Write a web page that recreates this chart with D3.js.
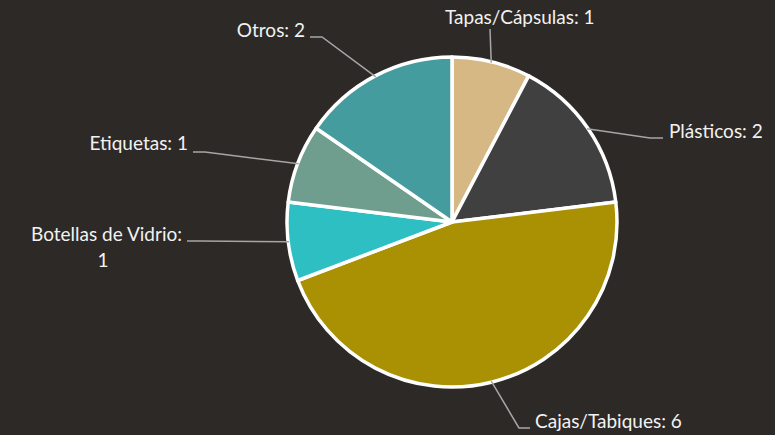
<!DOCTYPE html>
<html>
<head>
<meta charset="utf-8">
<script src="https://cdn.jsdelivr.net/npm/d3@7"></script>
<style>
  html, body { margin: 0; padding: 0; background: #2d2926; }
  svg { display: block; }
</style>
</head>
<body>
<svg id="chart"></svg>
<script>
// data
const categories = ["Tapas/Cápsulas", "Plásticos", "Cajas/Tabiques", "Botellas de Vidrio", "Etiquetas", "Otros"];
const values = [1, 2, 6, 1, 1, 2];
const colors = ["#d5b883", "#404040", "#a99103", "#2ebfc2", "#6f9d8e", "#449c9f"];

const width = 775;
const height = 435;
const cx = 452, cy = 222, radius = 165;

// label placement (relative to pie centre): elbow, stub end, text pos, anchor
const labelLayout = [
  { elbow: [38, -193], end: [38, -193], text: [-7, -198], anchor: "start" },
  { elbow: [198, -84], end: [211, -84], text: [217, -84], anchor: "start" },
  { elbow: [67, 206], end: [78, 206], text: [83, 206], anchor: "start" },
  { elbow: [-252, 19], end: [-265, 19], text: [-270, 19], anchor: "end", wrap: true },
  { elbow: [-247, -70], end: [-259, -70], text: [-264, -72], anchor: "end" },
  { elbow: [-130, -185], end: [-142, -185], text: [-147, -185], anchor: "end" }
];

const svg = d3.select("#chart")
  .attr("width", width)
  .attr("height", height)
  .attr("viewBox", [0, 0, width, height]);

svg.append("rect")
  .attr("width", width)
  .attr("height", height)
  .attr("fill", "#2d2926");

const pie = d3.pie().value(d => d.value).sort(null);
const arc = d3.arc().innerRadius(0).outerRadius(radius);

const data = categories.map((c, i) => ({ name: c, value: values[i], color: colors[i], layout: labelLayout[i] }));
const arcs = pie(data);

const g = svg.append("g").attr("transform", `translate(${cx},${cy})`);

g.selectAll("path")
  .data(arcs)
  .join("path")
  .attr("d", arc)
  .attr("fill", d => d.data.color)
  .attr("stroke", "#fff")
  .attr("stroke-width", 3.5)
  .attr("stroke-linejoin", "round");

// leader lines
g.selectAll("polyline")
  .data(arcs)
  .join("polyline")
  .attr("fill", "none")
  .attr("stroke", "#a6a6a6")
  .attr("stroke-width", 1.5)
  .attr("points", d => {
    const a = (d.startAngle + d.endAngle) / 2;
    const p0 = [Math.sin(a) * (radius - 1), -Math.cos(a) * (radius - 1)];
    return [p0, d.data.layout.elbow, d.data.layout.end].map(p => p.join(",")).join(" ");
  });

// labels
const labels = g.selectAll("text.lbl")
  .data(arcs)
  .join("text")
  .attr("class", "lbl")
  .attr("fill", "#f2f2f2")
  .attr("font-family", "Lato, 'Open Sans', sans-serif")
  .attr("font-size", "19px")
  .attr("text-anchor", d => d.data.layout.anchor)
  .attr("x", d => d.data.layout.text[0])
  .attr("y", d => d.data.layout.text[1]);

labels.each(function (d) {
  const t = d3.select(this);
  if (d.data.layout.wrap) {
    t.append("tspan").text(d.data.name + ":");
    t.append("tspan")
      .attr("x", -349)
      .attr("dy", 26)
      .attr("text-anchor", "middle")
      .text(d.data.value);
  } else {
    t.text(`${d.data.name}: ${d.data.value}`);
  }
});
</script>
</body>
</html>
